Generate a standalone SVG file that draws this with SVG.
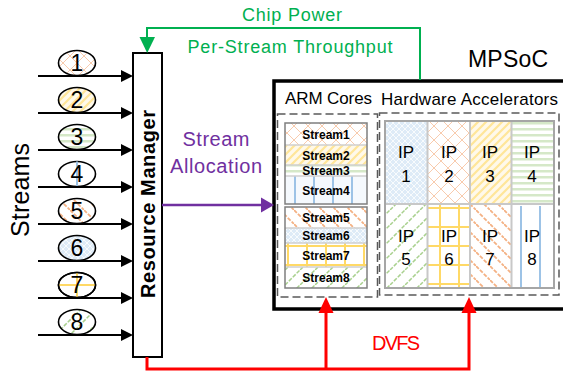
<svg xmlns="http://www.w3.org/2000/svg" width="563" height="377" viewBox="0 0 563 377">
<style>
text{font-family:"Liberation Sans",Arial,sans-serif}
.arr{stroke:#000;stroke-width:2}
.circ{stroke:#000;stroke-width:1.6}
.num{font-size:23px;text-anchor:middle;fill:#000}
.st{font-size:12px;font-weight:bold;text-anchor:middle;fill:#000}
.ip{font-size:17px;text-anchor:middle;fill:#000}
.dash{fill:none;stroke:#595959;stroke-width:1.5;stroke-dasharray:8 4}
.sbox{fill:none;stroke:#7F7F7F;stroke-width:1.5}
.sdiv{stroke:#D0D0D0;stroke-width:1.5}
.cell{stroke:#C8C8C8;stroke-width:2}
</style>
<defs>
<pattern id="p1" patternUnits="userSpaceOnUse" width="14" height="14">
<rect width="14" height="14" fill="#fff"/>
<path d="M0 0L14 14M14 0L0 14" stroke="#F8CBAD" stroke-width="1"/>
</pattern>
<pattern id="p2" patternUnits="userSpaceOnUse" width="8" height="8">
<rect width="8" height="8" fill="#FFF9EA"/>
<path d="M-2 10L10 -2M-2 2L2 -2M6 10L10 6" stroke="#FFE699" stroke-width="2.2"/>
</pattern>
<pattern id="p3" patternUnits="userSpaceOnUse" width="6" height="6">
<rect width="6" height="6" fill="#fff"/>
<rect y="2" width="6" height="2.5" fill="#D5E8C8"/>
</pattern>
<pattern id="p4" patternUnits="userSpaceOnUse" width="19" height="10" x="1">
<rect width="19" height="10" fill="#F5F9FD"/>
<rect x="8" width="2" height="10" fill="#9DC3E6"/>
</pattern>
<pattern id="p5" patternUnits="userSpaceOnUse" width="14" height="14">
<rect width="14" height="14" fill="#fff"/>
<path d="M0 0L14 14M-7 7L0 14M7 -7L21 7" stroke="#F4B183" stroke-width="1.8" stroke-dasharray="4 1.5"/>
</pattern>
<pattern id="p6" patternUnits="userSpaceOnUse" width="6" height="6">
<rect width="6" height="6" fill="#DEEBF7"/>
<path d="M0 0L6 6M6 0L0 6" stroke="#fff" stroke-width="0.8"/>
</pattern>
<pattern id="p7" patternUnits="userSpaceOnUse" width="19" height="19" x="-6" y="-10">
<rect width="19" height="19" fill="#fff"/>
<rect x="8" width="2" height="19" fill="#FFD966"/>
<rect y="8" width="19" height="2" fill="#FFD966"/>
</pattern>
<pattern id="p8" patternUnits="userSpaceOnUse" width="15" height="15">
<rect width="15" height="15" fill="#fff"/>
<path d="M0 15L15 0M-7 7L7 -7M8 22L22 8" stroke="#A9D18E" stroke-width="1.5" stroke-dasharray="4 1.5"/>
</pattern>
</defs>

<rect width="563" height="377" fill="#fff"/>

<text x="29" y="190" font-size="25" text-anchor="middle" transform="rotate(-90 29 190)" textLength="94">Streams</text>

<g id="stream-circles">
<g id="s1"><ellipse cx="77" cy="63" rx="18.5" ry="12.5" fill="url(#p1)" class="circ"/><text x="77" y="71" class="num">1</text></g>
<g id="s2"><ellipse cx="77" cy="100" rx="18.5" ry="12.5" fill="url(#p2)" class="circ"/><text x="77" y="108" class="num">2</text></g>
<g id="s3"><ellipse cx="77" cy="137" rx="18.5" ry="12.5" fill="url(#p3)" class="circ"/><text x="77" y="145" class="num">3</text></g>
<g id="s4"><ellipse cx="77" cy="174" rx="18.5" ry="12.5" fill="#fff" class="circ"/><rect x="76" y="161.5" width="2" height="25" fill="#9DC3E6"/><text x="77" y="182" class="num">4</text></g>
<g id="s5"><ellipse cx="77" cy="211" rx="18.5" ry="12.5" fill="url(#p5)" class="circ"/><text x="77" y="219" class="num">5</text></g>
<g id="s6"><ellipse cx="77" cy="248" rx="18.5" ry="12.5" fill="url(#p6)" class="circ"/><text x="77" y="256" class="num">6</text></g>
<g id="s7"><ellipse cx="77" cy="285" rx="18.5" ry="12.5" fill="#fff" class="circ"/><rect x="76" y="272.5" width="2" height="25" fill="#FFD966"/><rect x="59" y="284" width="36" height="2" fill="#FFD966"/><ellipse cx="77" cy="285" rx="18.5" ry="12.5" fill="none" class="circ"/><text x="77" y="293" class="num">7</text></g>
<g id="s8"><ellipse cx="77" cy="322" rx="18.5" ry="12.5" fill="url(#p8)" class="circ"/><text x="77" y="330" class="num">8</text></g>
</g>

<g id="resource-manager">
<rect x="133" y="53" width="29" height="304" fill="#fff" stroke="#000" stroke-width="2"/>
<text x="154.5" y="204" font-size="20" font-weight="bold" text-anchor="middle" transform="rotate(-90 154.5 204)" textLength="188">Resource Manager</text>
</g>

<g id="mpsoc">
<rect x="274" y="81" width="292" height="228" fill="#fff" stroke="#000" stroke-width="3.5"/>
<text x="508" y="67" font-size="23" text-anchor="middle" textLength="80">MPSoC</text>
</g>

<g id="arm-cores">
<text x="285" y="104" font-size="17" textLength="87">ARM Cores</text>
<rect x="277.5" y="114" width="100" height="183" class="dash"/>
<g id="stream-block-1">
<rect x="285" y="123" width="82" height="22" fill="url(#p1)"/>
<rect x="285" y="145" width="82" height="20" fill="url(#p2)"/>
<rect x="285" y="165" width="82" height="11" fill="url(#p3)"/>
<rect x="285" y="176" width="82" height="28" fill="url(#p4)"/>
<path d="M285 145H367M285 165H367M285 176H367" class="sdiv"/>
<rect x="285" y="123" width="82" height="81" class="sbox"/>
<text x="326" y="139" class="st">Stream1</text>
<text x="326" y="159.5" class="st">Stream2</text>
<text x="326" y="175" class="st">Stream3</text>
<text x="326" y="194.5" class="st">Stream4</text>
</g>
<g id="stream-block-2">
<rect x="285" y="207" width="82" height="21" fill="url(#p5)"/>
<rect x="285" y="228" width="82" height="15" fill="url(#p6)"/>
<rect x="285" y="243" width="82" height="24" fill="url(#p7)"/>
<rect x="285" y="267" width="82" height="21" fill="url(#p8)"/>
<path d="M285 228H367M285 243H367M285 267H367" class="sdiv"/>
<rect x="285" y="207" width="82" height="81" class="sbox"/>
<text x="326" y="222" class="st">Stream5</text>
<text x="326" y="240" class="st">Stream6</text>
<text x="326" y="259.5" class="st">Stream7</text>
<text x="326" y="282" class="st">Stream8</text>
</g>
</g>

<g id="hardware-accelerators">
<text x="381" y="105" font-size="17" textLength="177">Hardware Accelerators</text>
<rect x="379.5" y="113" width="179.5" height="182" class="dash"/>
<rect x="385" y="121" width="42.5" height="83" fill="url(#p6)"/>
<rect x="427.5" y="121" width="42.5" height="83" fill="url(#p1)"/>
<rect x="470" y="121" width="41.5" height="83" fill="url(#p2)"/>
<rect x="511.5" y="121" width="42.5" height="83" fill="url(#p3)"/>
<rect x="385" y="204" width="42.5" height="84" fill="url(#p8)"/>
<rect x="427.5" y="204" width="42.5" height="84" fill="url(#p7)"/>
<rect x="470" y="204" width="41.5" height="84" fill="url(#p5)"/>
<rect x="511.5" y="204" width="42.5" height="84" fill="#fff"/>
<rect x="520" y="206" width="2" height="81" fill="#9DC3E6"/>
<rect x="539" y="206" width="2" height="81" fill="#9DC3E6"/>
<path d="M427.5 121V288M470 121V288M511.5 121V288M385 204H554" class="cell"/>
<rect x="385" y="121" width="169" height="167" fill="none" stroke="#A6A6A6" stroke-width="2"/>
<g id="ip1"><text x="406" y="158" class="ip">IP</text><text x="406" y="182" class="ip">1</text></g>
<g id="ip2"><text x="449" y="158" class="ip">IP</text><text x="449" y="182" class="ip">2</text></g>
<g id="ip3"><text x="490" y="158" class="ip">IP</text><text x="490" y="182" class="ip">3</text></g>
<g id="ip4"><text x="532" y="158" class="ip">IP</text><text x="532" y="182" class="ip">4</text></g>
<g id="ip5"><text x="406" y="242" class="ip">IP</text><text x="406" y="265" class="ip">5</text></g>
<g id="ip6"><text x="449" y="242" class="ip">IP</text><text x="449" y="265" class="ip">6</text></g>
<g id="ip7"><text x="490" y="242" class="ip">IP</text><text x="490" y="265" class="ip">7</text></g>
<g id="ip8"><text x="532" y="242" class="ip">IP</text><text x="532" y="265" class="ip">8</text></g>
</g>

<g id="connectors">
<g id="inputs">
<path d="M38 76H122M38 113H122M38 150H122M38 187H122M38 224H122M38 261H122M38 298H122M38 335H122" class="arr"/>
<path d="M121 70L133 76L121 82ZM121 107L133 113L121 119ZM121 144L133 150L121 156ZM121 181L133 187L121 193ZM121 218L133 224L121 230ZM121 255L133 261L121 267ZM121 292L133 298L121 304ZM121 329L133 335L121 341Z" fill="#000"/>
</g>
<g id="feedback" fill="none" stroke="#00B050" stroke-width="2">
<path d="M420 80V28H147V40"/>
<path d="M139.5 37H155L147.2 53Z" fill="#00B050" stroke="none"/>
</g>
<text x="292" y="21" font-size="18" fill="#00B050" text-anchor="middle" textLength="100">Chip Power</text>
<text x="290" y="53" font-size="18" fill="#00B050" text-anchor="middle" textLength="205">Per-Stream Throughput</text>
<g id="allocation">
<path d="M162 205H263" stroke="#7030A0" stroke-width="2.5"/>
<path d="M261 197.5L274 205L261 212.5Z" fill="#7030A0"/>
<text x="216" y="146" font-size="20" fill="#7030A0" text-anchor="middle" textLength="67">Stream</text>
<text x="216" y="173" font-size="20" fill="#7030A0" text-anchor="middle" textLength="92">Allocation</text>
</g>
<g id="dvfs">
<path d="M147 357V369H469V312M326 369V312" fill="none" stroke="#FF0000" stroke-width="3"/>
<path d="M318.5 313L326 297L333.5 313ZM461.5 313L469 297L476.5 313Z" fill="#FF0000"/>
<text x="396" y="350" font-size="20" fill="#FF0000" text-anchor="middle" textLength="48">DVFS</text>
</g>
</g>
</svg>
